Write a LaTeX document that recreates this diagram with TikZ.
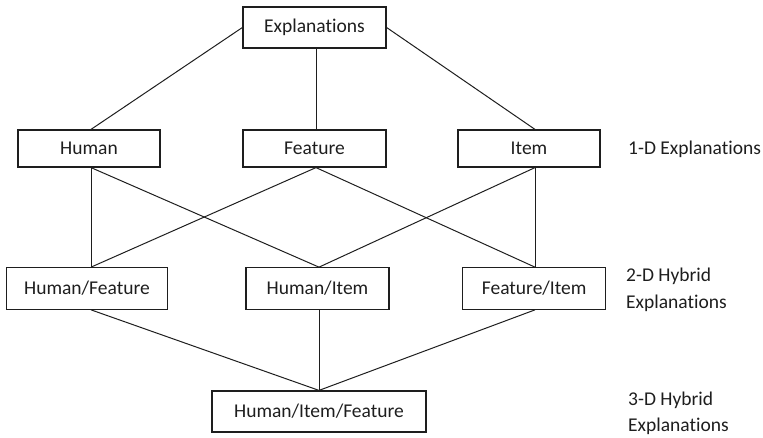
\documentclass[tikz,border=0pt]{standalone}
\usepackage{fontspec}
\usepackage{tikz}
\usetikzlibrary{positioning}
\setmainfont[RawFeature={-liga}]{Carlito}
\definecolor{Ink}{HTML}{1E1E1E}

\begin{document}
\begin{tikzpicture}[x=1pt, y=-1pt,
    box/.style={draw=Ink, line width=1.2pt, rectangle, inner sep=0pt, text=Ink,
                minimum width=143, minimum height=41},
    link/.style={draw=Ink, line width=1pt},
    level/.style={anchor=west, align=left, text=Ink, inner sep=0pt}]
    \fontsize{19.5}{26.5}\selectfont
    \useasboundingbox (0,0) rectangle (763,438);

    % Root
    \node[box] (expl) at (314.5,27.5) {Explanations};

    % 1-D layer
    \node[box, minimum width=142, minimum height=37] (human) at (89,148.5) {Human};
    \node[box, minimum height=37] (feature) at (314.5,148.5) {Feature};
    \node[box, minimum width=142, minimum height=37] (item) at (529,148.5) {Item};

    % 2-D layer
    \node[box, minimum width=160.5, minimum height=41.5] (humfeat) at (87,288.5) {Human/Feature};
    \node[box, minimum height=41.5] (humitem) at (317.5,288.5) {Human/Item};
    \node[box, minimum height=41.5] (featitem) at (534.2,288.5) {Feature/Item};

    % 3-D layer
    \node[box, minimum width=214] (all) at (319,411.5) {Human/Item/Feature};

    % Level labels
    \node[level] (lab1) at (628,149) {1-D Explanations};
    \node[level] (lab2) at (626,290) {2-D Hybrid\\Explanations};
    \node[level] (lab3) at (628,413.5) {3-D Hybrid\\Explanations};

    % Root to 1-D
    \draw[link] (expl.west) -- ([xshift=2]human.north);
    \draw[link] ([xshift=1.5]expl.south) -- ([xshift=1.5]feature.north);
    \draw[link] (expl.east) -- ([xshift=6]item.north);

    % 1-D to 2-D
    \draw[link] ([xshift=2]human.south) -- ([xshift=4]humfeat.north);
    \draw[link] ([xshift=2]human.south) -- ([xshift=1.5]humitem.north);
    \draw[link] ([xshift=1.5]feature.south) -- ([xshift=4]humfeat.north);
    \draw[link] ([xshift=1.5]feature.south) -- ([xshift=0.8]featitem.north);
    \draw[link] ([xshift=6]item.south) -- ([xshift=1.5]humitem.north);
    \draw[link] ([xshift=6]item.south) -- ([xshift=0.8]featitem.north);

    % 2-D to 3-D
    \draw[link] ([xshift=4]humfeat.south) -- (all.north);
    \draw[link] ([xshift=1.5]humitem.south) -- (all.north);
    \draw[link] ([xshift=0.8]featitem.south) -- (all.north);
\end{tikzpicture}
\end{document}
